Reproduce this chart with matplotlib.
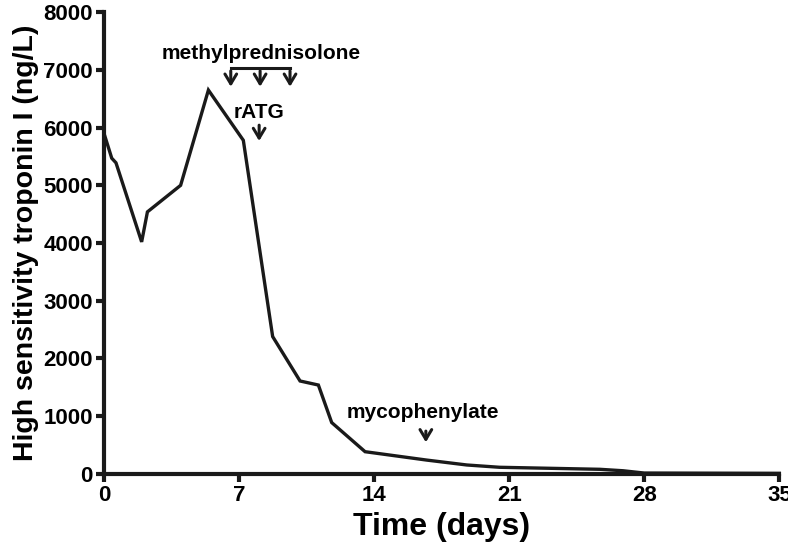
import matplotlib
matplotlib.use("Agg")
import matplotlib.pyplot as plt

days = [0.0, 0.4, 0.62, 1.95, 2.25, 3.97, 5.41, 7.22, 8.74, 10.16, 11.11, 11.80,
        13.53, 16.72, 18.8, 20.5, 25.7, 26.9, 28.0, 35.0]
troponin = [5900, 5470, 5390, 4020, 4540, 5000, 6650, 5780, 2380, 1610, 1540, 890,
            385, 240, 155, 115, 80, 55, 15, 10]

mp_days = [6.57, 8.09, 9.64]
ratg_day = 8.04
myco_day = 16.68
x_ticks = [0, 7, 14, 21, 28, 35]
y_ticks = [0, 1000, 2000, 3000, 4000, 5000, 6000, 7000, 8000]

plt.rcParams['font.family'] = ['Liberation Sans', 'DejaVu Sans']
plt.rcParams['font.weight'] = 'bold'

fig = plt.figure(figsize=(7.88, 5.53), dpi=100)
ax = fig.add_axes([0.132, 0.143, 0.857, 0.835])
ax.plot(days, troponin, color='#1a1a1a', lw=2.4, solid_joinstyle='miter', clip_on=False, zorder=3)

ax.set_xlim(0, 35)
ax.set_ylim(0, 8000)
ax.set_xticks(x_ticks)
ax.set_yticks(y_ticks)
for s in ['top', 'right']:
    ax.spines[s].set_visible(False)
for s in ['left', 'bottom']:
    ax.spines[s].set_linewidth(3)
    ax.spines[s].set_color('#1a1a1a')
ax.tick_params(direction='out', length=6, width=3, color='#1a1a1a', labelsize=16, pad=2)
for lab in ax.get_xticklabels() + ax.get_yticklabels():
    lab.set_fontweight('bold')
ax.set_xlabel('Time (days)', fontsize=23, fontweight='bold', labelpad=4)
ax.set_ylabel('High sensitivity troponin I (ng/L)', fontsize=20.5, fontweight='bold', labelpad=3)

ak = dict(arrowstyle='->,head_length=0.7,head_width=0.42', color='#1a1a1a', lw=2.2)
# methylprednisolone bracket
ax.plot([mp_days[0], mp_days[-1]], [7030, 7030], color='#1a1a1a', lw=2.2, solid_capstyle='projecting')
for d in mp_days:
    ax.annotate('', xy=(d, 6660), xytext=(d, 7030), arrowprops=ak)
ax.text(8.17, 7290, 'methylprednisolone', ha='center', va='center', fontsize=15, fontweight='bold')
ax.text(ratg_day, 6270, 'rATG', ha='center', va='center', fontsize=15, fontweight='bold')
ax.annotate('', xy=(ratg_day, 5720), xytext=(ratg_day, 6090), arrowprops=ak)
ax.text(16.55, 1056, 'mycophenylate', ha='center', va='center', fontsize=15, fontweight='bold')
ax.annotate('', xy=(myco_day, 500), xytext=(myco_day, 790), arrowprops=ak)

fig.savefig('out.png', dpi=100)
